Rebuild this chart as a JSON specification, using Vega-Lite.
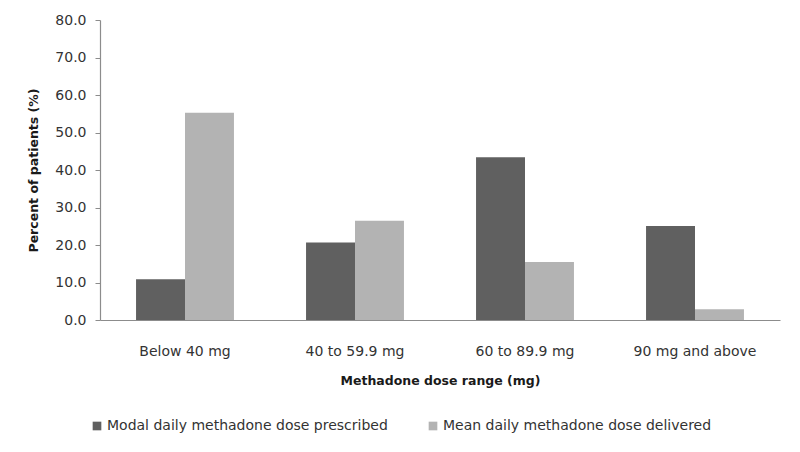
{
  "$schema": "https://vega.github.io/schema/vega-lite/v6.json",
  "width": 680,
  "height": 300,
  "autosize": {"type": "none"},
  "padding": {"left": 100, "top": 20, "right": 20, "bottom": 132},
  "background": "white",
  "data": {
    "values": [
      {"range": "Below 40 mg", "series": "Modal daily methadone dose prescribed", "pct": 10.9},
      {"range": "Below 40 mg", "series": "Mean daily methadone dose delivered", "pct": 55.3},
      {"range": "40 to 59.9 mg", "series": "Modal daily methadone dose prescribed", "pct": 20.7},
      {"range": "40 to 59.9 mg", "series": "Mean daily methadone dose delivered", "pct": 26.5},
      {"range": "60 to 89.9 mg", "series": "Modal daily methadone dose prescribed", "pct": 43.4},
      {"range": "60 to 89.9 mg", "series": "Mean daily methadone dose delivered", "pct": 15.5},
      {"range": "90 mg and above", "series": "Modal daily methadone dose prescribed", "pct": 25.1},
      {"range": "90 mg and above", "series": "Mean daily methadone dose delivered", "pct": 2.9}
    ]
  },
  "mark": {"type": "bar"},
  "encoding": {
    "x": {
      "field": "range",
      "type": "nominal",
      "sort": ["Below 40 mg", "40 to 59.9 mg", "60 to 89.9 mg", "90 mg and above"],
      "scale": {"paddingInner": 0.424, "paddingOuter": 0.212},
      "axis": {
        "title": "Methadone dose range (mg)",
        "titleFont": "DejaVu Sans",
        "titleFontSize": 12.5,
        "titleFontWeight": "bold",
        "titleColor": "#1a1a1a",
        "titlePadding": 16,
        "labelAngle": 0,
        "labelFont": "DejaVu Sans",
        "labelFontSize": 14,
        "labelColor": "#333333",
        "labelPadding": 24,
        "ticks": false,
        "domainColor": "#8c8c8c",
        "domainWidth": 1.2
      }
    },
    "xOffset": {
      "field": "series",
      "type": "nominal",
      "sort": ["Modal daily methadone dose prescribed", "Mean daily methadone dose delivered"],
      "scale": {"paddingInner": 0, "paddingOuter": 0}
    },
    "y": {
      "field": "pct",
      "type": "quantitative",
      "scale": {"domain": [0, 80]},
      "axis": {
        "title": "Percent of patients (%)",
        "titleFont": "DejaVu Sans",
        "titleFontSize": 12.5,
        "titleFontWeight": "bold",
        "titleColor": "#1a1a1a",
        "titlePadding": 14,
        "values": [0, 10, 20, 30, 40, 50, 60, 70, 80],
        "format": ".1f",
        "grid": false,
        "labelFont": "DejaVu Sans",
        "labelFontSize": 14,
        "labelColor": "#333333",
        "labelPadding": 9,
        "tickSize": 5,
        "tickColor": "#8c8c8c",
        "domainColor": "#8c8c8c",
        "domainWidth": 1.2
      }
    },
    "color": {
      "field": "series",
      "type": "nominal",
      "sort": ["Modal daily methadone dose prescribed", "Mean daily methadone dose delivered"],
      "scale": {"range": ["#606060", "#b3b3b3"]},
      "legend": {
        "title": null,
        "orient": "none",
        "direction": "horizontal",
        "legendX": -10,
        "legendY": 399,
        "symbolType": "square",
        "symbolSize": 75,
        "symbolStrokeWidth": 0,
        "labelFont": "DejaVu Sans",
        "labelFontSize": 14,
        "labelColor": "#333333",
        "labelOffset": 3,
        "labelLimit": 400,
        "columnPadding": 38
      }
    }
  },
  "config": {"view": {"stroke": null}}
}
